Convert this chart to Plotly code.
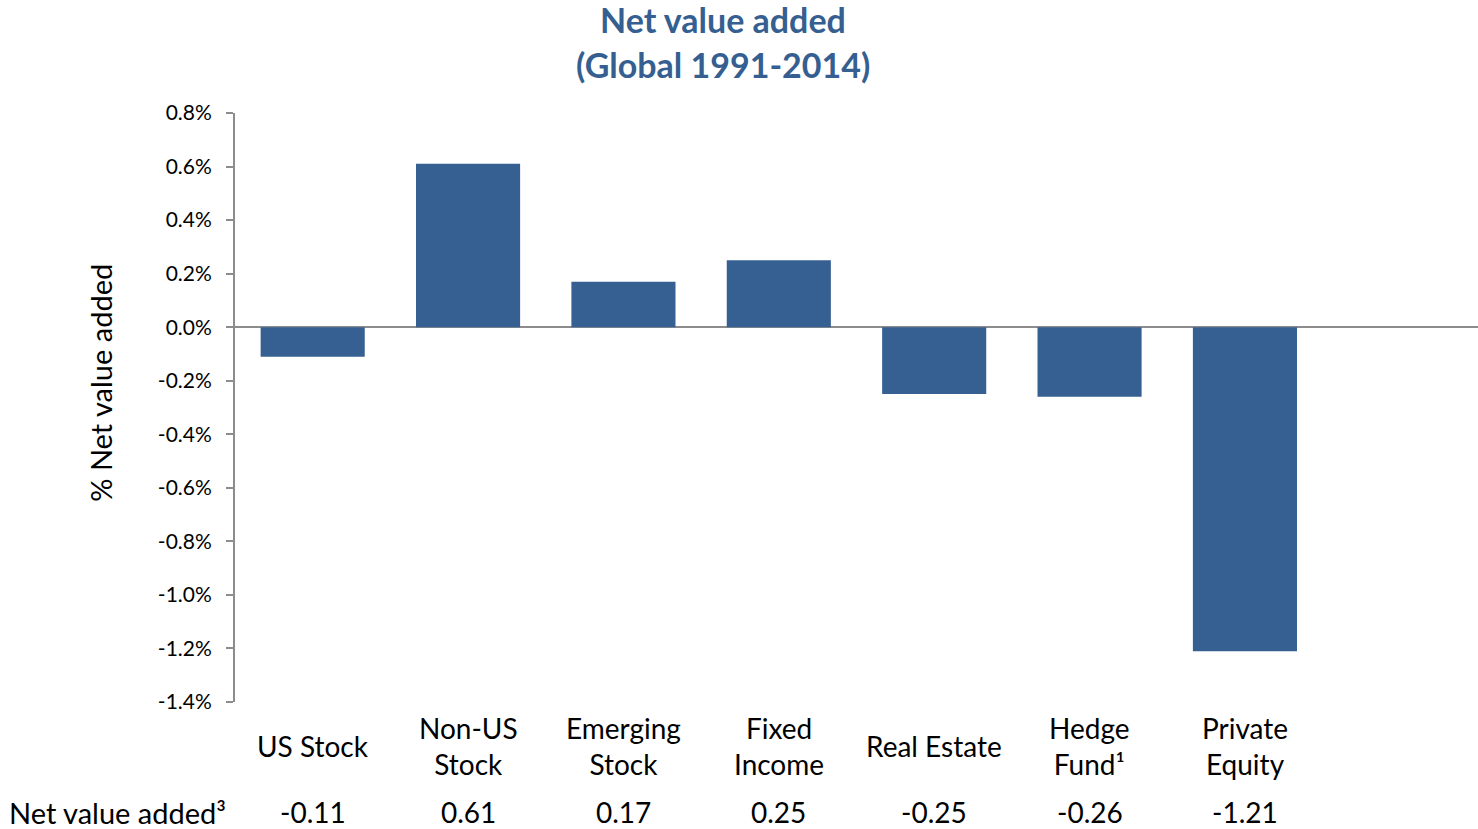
import plotly.graph_objects as go

# data
categories = ["US Stock", "Non-US<br>Stock", "Emerging<br>Stock", "Fixed<br>Income",
              "Real Estate", "Hedge<br>Fund¹", "Private<br>Equity"]
net_value = [-0.11, 0.61, 0.17, 0.25, -0.25, -0.26, -1.21]
value_labels = ["-0.11", "0.61", "0.17", "0.25", "-0.25", "-0.26", "-1.21"]
y_ticks = [0.8, 0.6, 0.4, 0.2, 0.0, -0.2, -0.4, -0.6, -0.8, -1.0, -1.2, -1.4]
y_tick_text = ["0.8%", "0.6%", "0.4%", "0.2%", "0.0%", "-0.2%", "-0.4%", "-0.6%",
               "-0.8%", "-1.0%", "-1.2%", "-1.4%"]
title_lines = ["Net value added", "(Global 1991-2014)"]

FONT = "Lato, Open Sans, sans-serif"
BAR = "#366092"
AXIS = "#8c8c8c"
TITLE = "#365F91"

xs = list(range(len(categories)))

fig = go.Figure()
fig.add_trace(go.Bar(x=xs, y=net_value, width=0.67, marker_color=BAR,
                     marker_line_width=0, hoverinfo="skip"))

# category names and the value row underneath
for x, name, lab in zip(xs, categories, value_labels):
    fig.add_annotation(x=x, xref="x", y=-0.0747, yref="paper", text=name,
                       showarrow=False, yanchor="middle",
                       font=dict(family=FONT, size=28, color="black"))
    fig.add_annotation(x=x, xref="x", y=-0.187, yref="paper", text=lab,
                       showarrow=False, yanchor="middle",
                       font=dict(family=FONT, size=28, color="black"))

fig.add_annotation(x=-0.006, xref="paper", y=-0.187, yref="paper",
                   text="Net value added³", showarrow=False,
                   xanchor="right", yanchor="middle",
                   font=dict(family=FONT, size=29, color="black"))

fig.add_annotation(x=-0.108, xref="paper", y=0.5416, yref="paper",
                   text="% Net value added", textangle=-90, showarrow=False,
                   xanchor="center", yanchor="middle",
                   font=dict(family=FONT, size=29, color="black"))

# two-line title
for line, yy in zip(title_lines, [1.159, 1.083]):
    fig.add_annotation(x=0.3926, xref="paper", y=yy, yref="paper",
                       text="<b>" + line + "</b>", showarrow=False,
                       xanchor="center", yanchor="middle",
                       font=dict(family=FONT, size=34, color=TITLE))

fig.update_layout(
    width=1478, height=829,
    margin=dict(l=235, r=0, t=113, b=127),
    paper_bgcolor="white", plot_bgcolor="white",
    showlegend=False,
    xaxis=dict(range=[-0.5, 7.5], showticklabels=False, showgrid=False,
               zeroline=False, showline=False, ticks=""),
    yaxis=dict(range=[-1.4, 0.8], tickvals=y_ticks, ticktext=y_tick_text,
               showgrid=False, showline=True, linecolor=AXIS, linewidth=2,
               ticks="outside", ticklen=7, tickcolor=AXIS, tickwidth=2,
               ticklabelstandoff=10,
               zeroline=True, zerolinecolor=AXIS, zerolinewidth=2,
               tickfont=dict(family=FONT, size=21, color="black")),
)

fig.write_html("out.html", config={"displayModeBar": False},
               post_script="document.body.style.margin='0';")
